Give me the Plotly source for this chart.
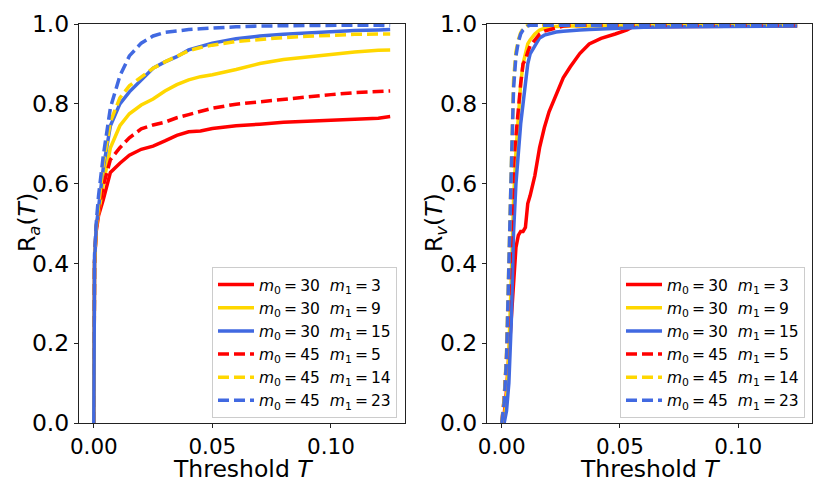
import plotly.graph_objects as go

# ---------------- data: left panel R_a(T) ----------------
T_a = [0, 0.0003, 0.001, 0.002, 0.004, 0.007, 0.011, 0.015, 0.02, 0.025, 0.03, 0.035,
       0.04, 0.045, 0.05, 0.06, 0.07, 0.08, 0.09, 0.10, 0.11, 0.12, 0.125]
ra_30_3 = [0, 0.40, 0.48, 0.52, 0.56, 0.628, 0.651, 0.671, 0.686, 0.694, 0.707, 0.721,
           0.730, 0.732, 0.738, 0.745, 0.749, 0.754, 0.756, 0.758, 0.761, 0.764, 0.768]
ra_30_9 = [0, 0.40, 0.49, 0.53, 0.60, 0.69, 0.745, 0.775, 0.797, 0.812, 0.832, 0.848,
           0.860, 0.868, 0.873, 0.886, 0.901, 0.911, 0.918, 0.923, 0.930, 0.934, 0.935]
ra_30_15 = [0, 0.40, 0.49, 0.54, 0.64, 0.745, 0.80, 0.83, 0.86, 0.889, 0.905, 0.918,
            0.935, 0.943, 0.952, 0.963, 0.970, 0.974, 0.978, 0.982, 0.984, 0.985, 0.986]
ra_45_5 = [0, 0.40, 0.49, 0.53, 0.595, 0.66, 0.69, 0.715, 0.737, 0.747, 0.754, 0.765,
           0.773, 0.780, 0.789, 0.799, 0.805, 0.813, 0.818, 0.823, 0.828, 0.832, 0.832]
ra_45_14 = [0, 0.40, 0.49, 0.55, 0.65, 0.755, 0.815, 0.845, 0.868, 0.889, 0.905, 0.920,
            0.933, 0.941, 0.947, 0.956, 0.962, 0.966, 0.969, 0.972, 0.974, 0.975, 0.975]
ra_45_23 = [0, 0.42, 0.50, 0.57, 0.67, 0.79, 0.87, 0.92, 0.952, 0.970, 0.979, 0.983,
            0.986, 0.988, 0.990, 0.993, 0.995, 0.996, 0.997, 0.997, 0.997, 0.997, 0.996]

# ---------------- data: right panel R_v(T) ----------------
T_v = [0, 0.001, 0.002, 0.003, 0.004, 0.005, 0.006, 0.007, 0.008, 0.009, 0.01, 0.011,
       0.012, 0.014, 0.016, 0.018, 0.02, 0.023, 0.026, 0.029, 0.033, 0.037, 0.042,
       0.048, 0.053, 0.055, 0.06, 0.08, 0.10, 0.125]
rv_30_3 = [0, 0.02, 0.08, 0.18, 0.27, 0.35, 0.44, 0.47, 0.48, 0.48, 0.49, 0.55,
           0.57, 0.62, 0.69, 0.74, 0.78, 0.82, 0.865, 0.893, 0.926, 0.95, 0.964,
           0.975, 0.985, 0.992, 0.993, 0.994, 0.995, 0.995]
rv_30_9 = [0, 0.01, 0.06, 0.18, 0.36, 0.56, 0.68, 0.78, 0.85, 0.90, 0.93, 0.95,
           0.96, 0.975, 0.985, 0.99, 0.993, 0.994, 0.995, 0.995, 0.995, 0.995, 0.995,
           0.995, 0.995, 0.995, 0.995, 0.996, 0.996, 0.996]
rv_30_15 = [0, 0.0, 0.03, 0.10, 0.25, 0.48, 0.60, 0.68, 0.75, 0.80, 0.85, 0.90,
            0.925, 0.945, 0.965, 0.972, 0.976, 0.980, 0.982, 0.984, 0.985, 0.986, 0.987,
            0.989, 0.990, 0.991, 0.992, 0.993, 0.994, 0.995]
rv_45_5 = [0, 0.06, 0.16, 0.33, 0.52, 0.65, 0.72, 0.79, 0.85, 0.90, 0.91, 0.93,
           0.945, 0.96, 0.975, 0.982, 0.985, 0.99, 0.995, 0.996, 0.997, 0.997, 0.997,
           0.997, 0.997, 0.997, 0.997, 0.997, 0.997, 0.997]
rv_45_14 = [0, 0.06, 0.17, 0.38, 0.66, 0.86, 0.93, 0.96, 0.978, 0.988, 0.993, 0.997,
            0.998, 0.998, 0.998, 0.998, 0.998, 0.998, 0.998, 0.998, 0.998, 0.998, 0.998,
            0.998, 0.998, 0.998, 0.998, 0.998, 0.998, 0.998]
rv_45_23 = [0, 0.05, 0.16, 0.36, 0.63, 0.84, 0.92, 0.955, 0.975, 0.985, 0.99, 0.995,
            0.997, 0.997, 0.997, 0.997, 0.997, 0.997, 0.997, 0.997, 0.997, 0.997, 0.997,
            0.997, 0.997, 0.997, 0.997, 0.997, 0.997, 0.997]

ts = "\u2009"  # thin space around '=' as in mathtext
labels = [
    f"<i>m</i><sub>0</sub>{ts}={ts}30  <i>m</i><sub>1</sub>{ts}={ts}3",
    f"<i>m</i><sub>0</sub>{ts}={ts}30  <i>m</i><sub>1</sub>{ts}={ts}9",
    f"<i>m</i><sub>0</sub>{ts}={ts}30  <i>m</i><sub>1</sub>{ts}={ts}15",
    f"<i>m</i><sub>0</sub>{ts}={ts}45  <i>m</i><sub>1</sub>{ts}={ts}5",
    f"<i>m</i><sub>0</sub>{ts}={ts}45  <i>m</i><sub>1</sub>{ts}={ts}14",
    f"<i>m</i><sub>0</sub>{ts}={ts}45  <i>m</i><sub>1</sub>{ts}={ts}23",
]
colors = ["#ff0000", "#ffd700", "#4169e1", "#ff0000", "#ffd700", "#4169e1"]
dashes = ["solid", "solid", "solid", "11px,5px", "11px,5px", "11px,5px"]

x_title = "Threshold <i>T</i>"
y_titles = ["R<sub><i>a</i></sub>(<i>T</i>)", "R<sub><i>v</i></sub>(<i>T</i>)"]

left_series = [ra_30_3, ra_30_9, ra_30_15, ra_45_5, ra_45_14, ra_45_23]
right_series = [rv_30_3, rv_30_9, rv_30_15, rv_45_5, rv_45_14, rv_45_23]

fig = go.Figure()
for i, ys in enumerate(left_series):
    fig.add_trace(go.Scatter(x=T_a, y=ys, mode="lines", name=labels[i],
                             line=dict(color=colors[i], width=3.5, dash=dashes[i]),
                             xaxis="x", yaxis="y", legend="legend"))
for i, ys in enumerate(right_series):
    fig.add_trace(go.Scatter(x=T_v, y=ys, mode="lines", name=labels[i],
                             line=dict(color=colors[i], width=3.5, dash=dashes[i]),
                             xaxis="x2", yaxis="y2", legend="legend2"))

W, H = 830, 489
yd = [1 - 423 / H, 1 - 24 / H]
FS = 23.5
axis_common = dict(showgrid=False, zeroline=False, showline=True, linecolor="#222",
                   linewidth=1, mirror=True, ticks="outside", ticklen=4, tickcolor="#222",
                   automargin=False)
xr = [-0.00625, 0.13125]
yt = [0, 0.2, 0.4, 0.6, 0.8, 1.0]
ytt = ["0.0", "0.2", "0.4", "0.6", "0.8", "1.0"]
xtick_font = dict(size=21.5, color="black")
ytick_font = dict(size=FS, color="black")

fig.update_layout(
    width=W, height=H,
    margin=dict(l=0, r=0, t=0, b=0),
    paper_bgcolor="white", plot_bgcolor="white",
    font=dict(family="DejaVu Sans", color="black"),
    xaxis=dict(domain=[79 / W, 405 / W], range=xr, tickvals=[0, 0.05, 0.10],
               ticktext=["0.00", "0.05", "0.10"], anchor="y", tickfont=xtick_font,
               **axis_common),
    yaxis=dict(domain=yd, range=[0, 1], tickvals=yt, ticktext=ytt,
               anchor="x", tickfont=ytick_font, **axis_common),
    xaxis2=dict(domain=[487 / W, 812 / W], range=xr, tickvals=[0, 0.05, 0.10],
                ticktext=["0.00", "0.05", "0.10"], anchor="y2", tickfont=xtick_font,
                **axis_common),
    yaxis2=dict(domain=yd, range=[0, 1], tickvals=yt, ticktext=ytt,
                anchor="x2", tickfont=ytick_font, **axis_common),
    legend=dict(x=397 / W, y=1 - 418 / H, xanchor="right", yanchor="bottom",
                bgcolor="white", bordercolor="#cccccc", borderwidth=1,
                font=dict(size=15.5), tracegroupgap=0, itemwidth=36),
    legend2=dict(x=805 / W, y=1 - 418 / H, xanchor="right", yanchor="bottom",
                 bgcolor="white", bordercolor="#cccccc", borderwidth=1,
                 font=dict(size=15.5), tracegroupgap=0, itemwidth=36),
    annotations=[
        dict(text=x_title, x=243 / W, y=1 - 469 / H, xref="paper", yref="paper",
             xanchor="center", yanchor="middle", showarrow=False, font=dict(size=FS)),
        dict(text=x_title, x=650 / W, y=1 - 469 / H, xref="paper", yref="paper",
             xanchor="center", yanchor="middle", showarrow=False, font=dict(size=FS)),
        dict(text=y_titles[0], x=28 / W, y=1 - 223 / H, xref="paper", yref="paper",
             xanchor="center", yanchor="middle", showarrow=False, textangle=-90,
             font=dict(size=FS)),
        dict(text=y_titles[1], x=435 / W, y=1 - 223 / H, xref="paper", yref="paper",
             xanchor="center", yanchor="middle", showarrow=False, textangle=-90,
             font=dict(size=FS)),
    ],
)

fig.write_html("out.html", config={"displayModeBar": False},
               post_script="document.body.style.margin='0';")
